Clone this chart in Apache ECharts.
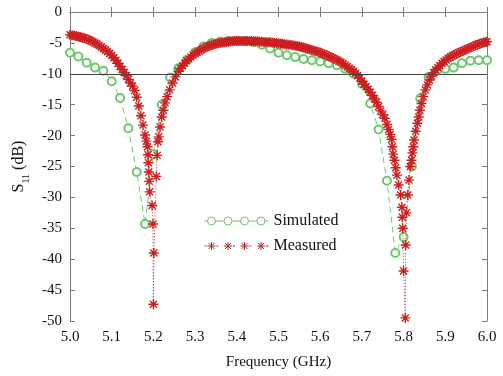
<!DOCTYPE html>
<html>
<head>
<meta charset="utf-8">
<script src="https://cdn.jsdelivr.net/npm/echarts@6/dist/echarts.min.js"></script>
<style>
  html, body { margin: 0; padding: 0; background: #fff; }
  #echarts { width: 503px; height: 376px; }
</style>
</head>
<body>
<div id="echarts"></div>
<script>
// Simulated S11 (every 0.02 GHz)
const simFreq = [
    5.00, 5.02, 5.04, 5.06, 5.08, 5.10, 5.12, 5.14, 5.16, 5.18,
    5.20, 5.22, 5.24, 5.26, 5.28, 5.30, 5.32, 5.34, 5.36, 5.38,
    5.40, 5.42, 5.44, 5.46, 5.48, 5.50, 5.52, 5.54, 5.56, 5.58,
    5.60, 5.62, 5.64, 5.66, 5.68, 5.70, 5.72, 5.74, 5.76, 5.78,
    5.80, 5.82, 5.84, 5.86, 5.88, 5.90, 5.92, 5.94, 5.96, 5.98, 6.00
];
const simS11 = [
    -6.6, -7.2, -8.2, -9.0, -9.5, -11.2, -13.9, -18.8, -25.9, -34.3,
    -23.0, -15.0, -10.6, -9.1, -7.8, -6.5, -5.6, -5.0, -4.8, -4.7,
    -4.7, -4.7, -4.9, -5.3, -5.9, -6.6, -7.0, -7.3, -7.6, -7.8,
    -8.0, -8.3, -8.6, -9.2, -10.0, -11.6, -14.8, -19.0, -27.3, -39.0,
    -36.4, -25.0, -14.0, -10.5, -9.5, -9.2, -9.0, -8.3, -7.9, -7.8, -7.8
];

// Measured S11
const measFreq = [
    5.000, 5.005, 5.010, 5.015, 5.020, 5.025, 5.030, 5.035, 5.040, 5.045,
    5.050, 5.055, 5.060, 5.065, 5.070, 5.075, 5.080, 5.085, 5.090, 5.095,
    5.100, 5.105, 5.110, 5.115, 5.120, 5.125, 5.130, 5.135, 5.140, 5.145,
    5.150, 5.155, 5.160, 5.165, 5.170, 5.175, 5.180, 5.183, 5.186, 5.187,
    5.188, 5.189, 5.190, 5.191, 5.197, 5.199, 5.200, 5.201, 5.207, 5.209,
    5.211, 5.213, 5.216, 5.220, 5.224, 5.228, 5.233, 5.239, 5.246, 5.253,
    5.260, 5.265, 5.270, 5.275, 5.280, 5.285, 5.290, 5.295, 5.300, 5.305,
    5.310, 5.315, 5.320, 5.325, 5.330, 5.335, 5.340, 5.345, 5.350, 5.355,
    5.360, 5.365, 5.370, 5.375, 5.380, 5.385, 5.390, 5.395, 5.400, 5.405,
    5.410, 5.415, 5.420, 5.425, 5.430, 5.435, 5.440, 5.445, 5.450, 5.455,
    5.460, 5.465, 5.470, 5.475, 5.480, 5.485, 5.490, 5.495, 5.500, 5.505,
    5.510, 5.515, 5.520, 5.525, 5.530, 5.535, 5.540, 5.545, 5.550, 5.555,
    5.560, 5.565, 5.570, 5.575, 5.580, 5.585, 5.590, 5.595, 5.600, 5.605,
    5.610, 5.615, 5.620, 5.625, 5.630, 5.635, 5.640, 5.645, 5.650, 5.655,
    5.660, 5.665, 5.670, 5.675, 5.680, 5.685, 5.690, 5.695, 5.700, 5.705,
    5.710, 5.715, 5.720, 5.725, 5.730, 5.735, 5.740, 5.745, 5.750, 5.755,
    5.760, 5.764, 5.768, 5.771, 5.773, 5.775, 5.778, 5.781, 5.784, 5.788,
    5.793, 5.796, 5.797, 5.798, 5.800, 5.804, 5.805, 5.807, 5.810, 5.813,
    5.816, 5.819, 5.821, 5.823, 5.825, 5.829, 5.833, 5.836, 5.839, 5.843,
    5.847, 5.852, 5.857, 5.862, 5.867, 5.872, 5.877, 5.882, 5.887, 5.892,
    5.897, 5.902, 5.907, 5.912, 5.917, 5.922, 5.927, 5.932, 5.937, 5.942,
    5.947, 5.952, 5.957, 5.962, 5.967, 5.972, 5.977, 5.982, 5.987, 5.992,
    5.997, 6.000
];
const measS11 = [
    -3.7, -3.75, -3.8, -3.9, -4.0, -4.05, -4.15, -4.25, -4.35, -4.5,
    -4.65, -4.8, -5.0, -5.2, -5.4, -5.65, -5.9, -6.15, -6.4, -6.7,
    -7.0, -7.4, -7.8, -8.3, -8.8, -9.3, -9.8, -10.3, -10.9, -11.5,
    -12.0, -12.7, -13.8, -15.2, -16.8, -18.3, -19.9, -20.9, -21.8, -23.1,
    -24.4, -25.9, -27.4, -29.1, -31.3, -34.3, -47.3, -39.0, -26.6, -23.2,
    -21.0, -20.2, -18.6, -17.0, -15.9, -14.7, -13.7, -12.6, -11.5, -10.5,
    -9.6, -9.1, -8.7, -8.3, -7.9, -7.6, -7.3, -7.0, -6.75, -6.5,
    -6.3, -6.1, -5.9, -5.75, -5.6, -5.45, -5.35, -5.25, -5.15, -5.05,
    -5.0, -4.95, -4.9, -4.85, -4.8, -4.75, -4.75, -4.7, -4.7, -4.7,
    -4.7, -4.7, -4.7, -4.7, -4.7, -4.7, -4.75, -4.75, -4.75, -4.8,
    -4.8, -4.85, -4.85, -4.9, -4.9, -4.95, -5.0, -5.0, -5.05, -5.1,
    -5.15, -5.2, -5.25, -5.3, -5.35, -5.4, -5.45, -5.5, -5.6, -5.65,
    -5.75, -5.85, -5.95, -6.05, -6.15, -6.25, -6.35, -6.45, -6.55, -6.7,
    -6.85, -7.0, -7.15, -7.3, -7.45, -7.6, -7.75, -7.95, -8.15, -8.35,
    -8.6, -8.85, -9.1, -9.35, -9.6, -9.9, -10.3, -10.7, -11.2, -11.7,
    -12.1, -12.5, -13.0, -13.5, -14.0, -14.6, -15.3, -16.0, -16.6, -17.2,
    -18.2, -19.0, -19.8, -20.6, -21.8, -23.0, -24.0, -25.2, -26.4, -28.0,
    -29.6, -31.6, -33.2, -35.0, -41.9, -49.5, -37.7, -32.5, -29.6, -27.2,
    -25.0, -24.0, -22.8, -21.8, -20.7, -19.3, -18.0, -17.0, -15.9, -14.8,
    -13.7, -12.6, -11.8, -11.0, -10.4, -9.8, -9.35, -9.0, -8.65, -8.3,
    -8.0, -7.75, -7.5, -7.3, -7.1, -6.9, -6.75, -6.6, -6.45, -6.3,
    -6.15, -6.0, -5.85, -5.7, -5.55, -5.4, -5.3, -5.15, -5.05, -4.95,
    -4.85, -4.8
];

// Axis ticks
const xTicks = { min: 5.0, max: 6.0, step: 0.1 };
const yTicks = { min: -50, max: 0, step: 5 };
const refLevel = -10;

const FONT = '"Liberation Serif", "Times New Roman", serif';
const GREEN = '#6cc86c';
const RED = '#cc1f1f';
const AXIS = '#7a7a7a';

const chart = echarts.init(document.getElementById('echarts'));

const circlesIcon = 'path://M0 5 L3 5 M11 5 L19.5 5 M27.5 5 L36 5 M44 5 L52.5 5 M60.5 5 L64 5 ' +
    'M3 5 A4 4 0 1 0 11 5 A4 4 0 1 0 3 5 ' +
    'M19.5 5 A4 4 0 1 0 27.5 5 A4 4 0 1 0 19.5 5 ' +
    'M36 5 A4 4 0 1 0 44 5 A4 4 0 1 0 36 5 ' +
    'M52.5 5 A4 4 0 1 0 60.5 5 A4 4 0 1 0 52.5 5';
const starsIcon = 'path://M0 5 L2 5 M12 5 L14 5 M28.5 5 L30.5 5 M45 5 L47 5 M61.5 5 L64 5 ' +
    'M3 5 L11 5 M7 1 L7 9 M4 2 L10 8 M4 8 L10 2 ' +
    'M19.5 5 L27.5 5 M23.5 1 L23.5 9 M20.5 2 L26.5 8 M20.5 8 L26.5 2 ' +
    'M36 5 L44 5 M40 1 L40 9 M37 2 L43 8 M37 8 L43 2 ' +
    'M52.5 5 L60.5 5 M56.5 1 L56.5 9 M53.5 2 L59.5 8 M53.5 8 L59.5 2';
const starSymbol = 'path://M5 0 L5 10 M0 5 L10 5 M1.5 1.5 L8.5 8.5 M1.5 8.5 L8.5 1.5';

const labelStyle = { fontFamily: FONT, fontSize: 15, color: '#111' };

const option = {
    animation: false,
    backgroundColor: '#fff',
    grid: { left: 70, right: 16, top: 12, bottom: 55 },
    legend: {
        orient: 'vertical',
        left: 199,
        top: 208,
        itemWidth: 64,
        itemHeight: 10,
        itemGap: 9,
        textStyle: { fontFamily: FONT, fontSize: 16, color: '#111' },
        data: [
            { name: 'Simulated', icon: circlesIcon, itemStyle: { color: 'transparent', borderColor: GREEN, borderWidth: 1 } },
            { name: 'Measured', icon: starsIcon, itemStyle: { color: 'transparent', borderColor: '#b02828', borderWidth: 1 } }
        ]
    },
    xAxis: [
        {
            type: 'value',
            min: xTicks.min, max: xTicks.max, interval: xTicks.step,
            name: 'Frequency (GHz)',
            nameLocation: 'middle',
            nameGap: 34,
            nameTextStyle: labelStyle,
            axisLine: { lineStyle: { color: AXIS } },
            axisTick: { inside: true, length: 5, lineStyle: { color: AXIS } },
            axisLabel: Object.assign({ margin: 9, formatter: v => v.toFixed(1) }, labelStyle),
            splitLine: { show: false }
        },
        {
            type: 'value', position: 'top',
            min: xTicks.min, max: xTicks.max, interval: xTicks.step,
            axisLine: { show: true, lineStyle: { color: AXIS } },
            axisTick: { show: true, inside: true, length: 5, lineStyle: { color: AXIS } },
            axisLabel: { show: false },
            splitLine: { show: false }
        }
    ],
    yAxis: [
        {
            type: 'value',
            min: yTicks.min, max: yTicks.max, interval: yTicks.step,
            name: '{s|S}{sub|11}{s| (dB)}',
            nameLocation: 'middle',
            nameGap: 36,
            nameTextStyle: {
                rich: {
                    s: { fontFamily: FONT, fontSize: 16, color: '#111', lineHeight: 18 },
                    sub: { fontFamily: FONT, fontSize: 10, color: '#111', lineHeight: 18, verticalAlign: 'bottom', padding: [0, 0, -3, 0] }
                }
            },
            axisLine: { show: true, lineStyle: { color: AXIS } },
            axisTick: { show: true, inside: true, length: 5, lineStyle: { color: AXIS } },
            axisLabel: Object.assign({ margin: 8 }, labelStyle),
            splitLine: { show: false }
        },
        {
            type: 'value', position: 'right',
            min: yTicks.min, max: yTicks.max, interval: yTicks.step,
            axisLine: { show: true, lineStyle: { color: AXIS } },
            axisTick: { show: true, inside: true, length: 5, lineStyle: { color: AXIS } },
            axisLabel: { show: false },
            splitLine: { show: false }
        }
    ],
    series: [
        {
            name: 'Simulated',
            type: 'line',
            data: simFreq.map((f, i) => [f, simS11[i]]),
            symbol: 'emptyCircle',
            symbolSize: 8,
            showAllSymbol: true,
            itemStyle: { color: GREEN, borderWidth: 1 },
            lineStyle: { color: GREEN, width: 1, type: [6, 4] },
            markLine: {
                silent: true,
                symbol: 'none',
                label: { show: false },
                lineStyle: { color: '#444', width: 1, type: 'solid' },
                data: [{ yAxis: refLevel }]
            },
            z: 2
        },
        {
            name: 'Measured',
            type: 'line',
            data: measFreq.map((f, i) => [f, measS11[i]]),
            symbol: starSymbol,
            symbolSize: 10,
            showAllSymbol: true,
            itemStyle: { color: RED, borderColor: RED, borderWidth: 1.4 },
            lineStyle: { color: '#a03c3c', width: 1, type: [1, 2] },
            z: 3
        }
    ]
};

chart.setOption(option);
</script>
</body>
</html>
